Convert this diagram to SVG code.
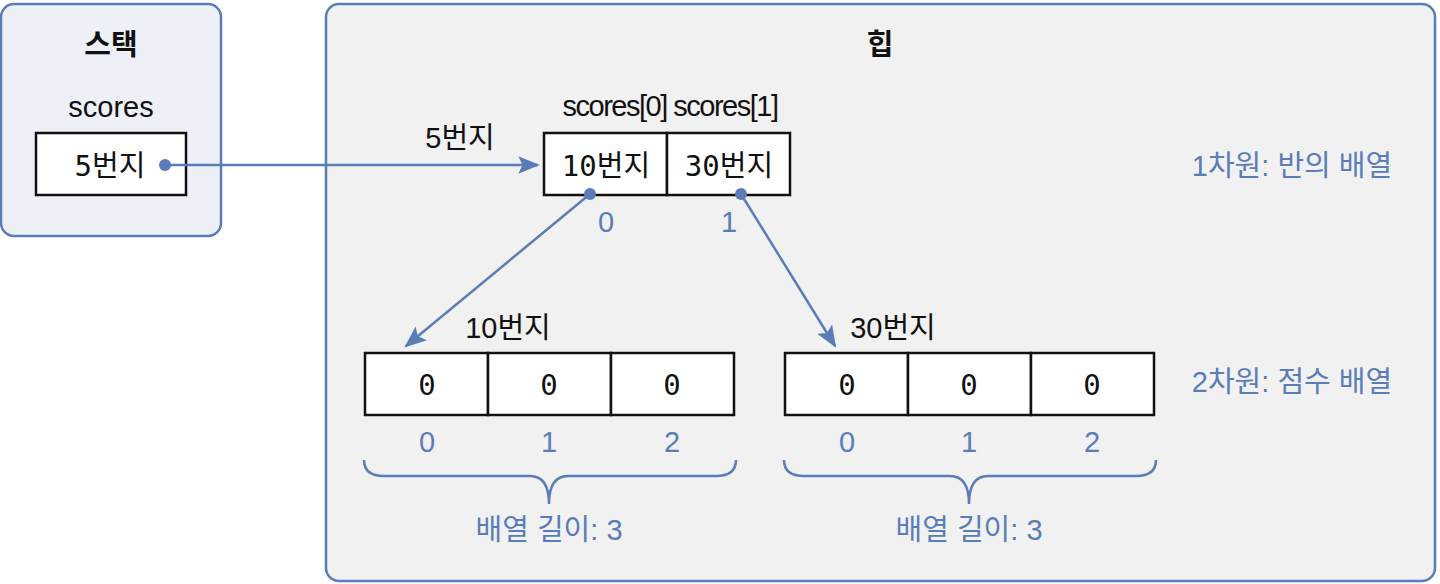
<svg xmlns="http://www.w3.org/2000/svg" width="1440" height="584" viewBox="0 0 1440 584">
<style>
.t{font-family:"Liberation Sans","Noto Sans CJK KR",sans-serif;font-size:29px;fill:#111}
.b{font-family:"Liberation Sans","Noto Sans CJK KR",sans-serif;font-size:29px;fill:#5a7db8}
.m{font-family:"DejaVu Sans Mono","Noto Sans CJK KR",monospace;font-size:29px;fill:#111}
.cell{fill:#fff;stroke:#111;stroke-width:2.5}
.ln{stroke:#5a7db8;stroke-width:2.5;fill:none}
.br{stroke:#5a7db8;stroke-width:2.5;fill:none}
</style>
<defs>
<marker id="ah" viewBox="0 0 10 10" refX="9" refY="5" markerWidth="8" markerHeight="8" markerUnits="userSpaceOnUse" orient="auto"><path d="M0,0 L10,5 L0,10 z" fill="#5a7db8" transform="scale(1)"/></marker>
<marker id="ah2" viewBox="0 0 10 10" refX="9" refY="5" markerWidth="22" markerHeight="22" markerUnits="userSpaceOnUse" orient="auto"><path d="M0,1 L10,5 L0,9 L2,5 z" fill="#5a7db8"/></marker>
</defs>
<g id="stack">
<rect x="1" y="4" width="220" height="232" rx="13" fill="#eef0f8" stroke="#5a7db8" stroke-width="2.5"/>
<text x="111" y="55" class="t" text-anchor="middle" font-weight="bold">스택</text>
<text x="111" y="117" class="t" text-anchor="middle">scores</text>
<rect x="36" y="133" width="150" height="62" class="cell"/>
<text x="110" y="176" class="m" text-anchor="middle">5번지</text>
</g>
<g id="heap">
<rect x="326" y="4" width="1109" height="577" rx="13" fill="#f1f1f1" stroke="#5a7db8" stroke-width="2.5"/>
<text x="880" y="55" class="t" text-anchor="middle" font-weight="bold">힙</text>
</g>
<g id="arr1">
<text x="670" y="116" class="t" text-anchor="middle" letter-spacing="-1.5">scores[0] scores[1]</text>
<text x="460" y="148" class="t" text-anchor="middle">5번지</text>
<rect x="544" y="133" width="123" height="62" class="cell"/>
<rect x="667" y="133" width="123" height="62" class="cell"/>
<text x="606" y="176" class="m" text-anchor="middle">10번지</text>
<text x="729" y="176" class="m" text-anchor="middle">30번지</text>
<text x="606" y="232" class="b" text-anchor="middle">0</text>
<text x="729" y="232" class="b" text-anchor="middle">1</text>
<text x="1292" y="176" class="b" text-anchor="middle">1차원: 반의 배열</text>
</g>
<g id="arr2a">
<text x="508" y="338" class="t" text-anchor="middle">10번지</text>
<rect x="365" y="353" width="123" height="62" class="cell"/>
<rect x="488" y="353" width="123" height="62" class="cell"/>
<rect x="611" y="353" width="123" height="62" class="cell"/>
<text x="427" y="395" class="m" text-anchor="middle">0</text>
<text x="549" y="395" class="m" text-anchor="middle">0</text>
<text x="672" y="395" class="m" text-anchor="middle">0</text>
<text x="427" y="452" class="b" text-anchor="middle">0</text>
<text x="549" y="452" class="b" text-anchor="middle">1</text>
<text x="672" y="452" class="b" text-anchor="middle">2</text>
<path class="br" d="M364,460 Q364,476 384,476 L530,476 Q549,476 549,504 Q549,476 568,476 L716,476 Q736,476 736,460"/>
<text x="549" y="540" class="b" text-anchor="middle">배열 길이: 3</text>
</g>
<g id="arr2b">
<text x="893" y="338" class="t" text-anchor="middle">30번지</text>
<rect x="785" y="353" width="123" height="62" class="cell"/>
<rect x="908" y="353" width="123" height="62" class="cell"/>
<rect x="1031" y="353" width="123" height="62" class="cell"/>
<text x="847" y="395" class="m" text-anchor="middle">0</text>
<text x="969" y="395" class="m" text-anchor="middle">0</text>
<text x="1092" y="395" class="m" text-anchor="middle">0</text>
<text x="847" y="452" class="b" text-anchor="middle">0</text>
<text x="969" y="452" class="b" text-anchor="middle">1</text>
<text x="1092" y="452" class="b" text-anchor="middle">2</text>
<path class="br" d="M784,460 Q784,476 804,476 L950,476 Q969,476 969,504 Q969,476 988,476 L1136,476 Q1156,476 1156,460"/>
<text x="969" y="540" class="b" text-anchor="middle">배열 길이: 3</text>
<text x="1292" y="392" class="b" text-anchor="middle">2차원: 점수 배열</text>
</g>
<g id="connectors">
<circle cx="165" cy="165" r="6" fill="#5a7db8"/>
<line x1="165" y1="165" x2="538" y2="165" class="ln" marker-end="url(#ah2)"/>
<circle cx="590" cy="194" r="6" fill="#5a7db8"/>
<line x1="590" y1="194" x2="406" y2="346" class="ln" marker-end="url(#ah2)"/>
<circle cx="741" cy="194" r="6" fill="#5a7db8"/>
<line x1="741" y1="194" x2="835" y2="346" class="ln" marker-end="url(#ah2)"/>
</g>
</svg>
